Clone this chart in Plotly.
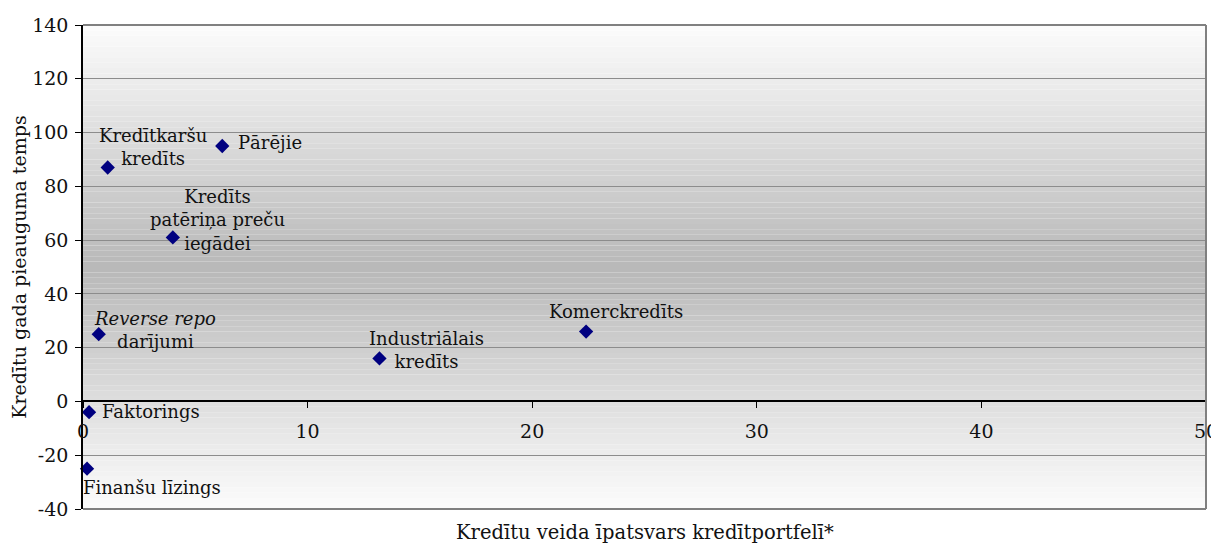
import plotly.graph_objects as go

labels = ["Kredītkaršu<br>kredīts", "Pārējie", "Kredīts<br>patēriņa preču<br>iegādei",
          "<i>Reverse repo</i><br>darījumi", "Industriālais<br>kredīts", "Komerckredīts",
          "Faktorings", "Finanšu līzings"]
share = [1.1, 6.2, 4.0, 0.7, 13.2, 22.4, 0.27, 0.18]
growth = [87, 95, 61, 25, 16, 26, -4, -25]
label_dx = [45, 48, 45, 56, 47, 30, 62, 65]
label_dy = [-21, -4, -17, -4, -8, -20, -1, 19]

x_ticks = [0, 10, 20, 30, 40, 50]
y_ticks = [-40, -20, 0, 20, 40, 60, 80, 100, 120, 140]
y_tick_text = ["-40", "-20", "0", "20", "40", "60", "80", "100", "120", "140"]
x_title = "Kredītu veida īpatsvars kredītportfelī*"
y_title = "Kredītu gada pieauguma temps"

FONT = "DejaVu Serif"
TXT = "#111111"
fig = go.Figure()
fig.add_trace(go.Scatter(
    x=share, y=growth, mode="markers",
    marker=dict(symbol="diamond", size=11, color="#000080"),
    hoverinfo="x+y", showlegend=False, cliponaxis=False))

# gradient background bands
shapes = []
N = 90
ymin, ymax = y_ticks[0], y_ticks[-1]
mid = (ymin + ymax) / 2
half = (ymax - ymin) / 2
for i in range(N):
    y0 = ymin + i * (ymax - ymin) / N
    y1 = ymin + (i + 1) * (ymax - ymin) / N
    yc = (y0 + y1) / 2
    t = 1 - abs(yc - mid) / half
    c = int(round(252 - (252 - 184) * t))
    shapes.append(dict(type="rect", xref="paper", yref="y", x0=0, x1=1, y0=y0, y1=y1,
                       fillcolor=f"rgb({c},{c},{c})", line=dict(width=0), layer="below"))
# frame (top, right, bottom)
for x0, y0, x1, y1 in [(0, 1, 1, 1), (1, 0, 1, 1), (0, 0, 1, 0)]:
    shapes.append(dict(type="line", xref="paper", yref="paper", x0=x0, y0=y0, x1=x1, y1=y1,
                       line=dict(color="#808080", width=2), layer="above"))

annotations = []
for lab, x, y, dx, dy in zip(labels, share, growth, label_dx, label_dy):
    annotations.append(dict(x=x, y=y, xref="x", yref="y", text=lab, showarrow=True,
                            arrowcolor="rgba(0,0,0,0)", ax=dx, ay=dy, align="center",
                            font=dict(family=FONT, size=18, color=TXT)))
annotations.append(dict(x=0.5, y=-0.048, xref="paper", yref="paper", text=x_title,
                        showarrow=False, yanchor="middle",
                        font=dict(family=FONT, size=19.5, color=TXT)))

fig.update_layout(
    width=1211, height=538,
    margin=dict(l=75, r=13, t=17, b=37, autoexpand=False),
    paper_bgcolor="white", plot_bgcolor="rgba(0,0,0,0)",
    font=dict(family=FONT, size=19, color=TXT),
    shapes=shapes, annotations=annotations,
    xaxis=dict(range=[0, 50], tickvals=x_ticks, ticks="outside", ticklen=6, tickcolor="black",
               showline=True, linecolor="black", linewidth=1.5, showgrid=False, zeroline=False,
               anchor="free", position=(0 - ymin) / (ymax - ymin), automargin=False,
               ticklabelstandoff=7,
               tickfont=dict(family=FONT, size=19, color=TXT)),
    yaxis=dict(range=[ymin, ymax], tickvals=y_ticks, ticktext=y_tick_text,
               ticks="outside", ticklen=6, tickcolor="black",
               showline=True, linecolor="black", linewidth=1.5, showgrid=True, automargin=False,
               gridcolor="#8c8c8c", gridwidth=1, zeroline=False, ticklabelstandoff=3,
               title=dict(text=y_title, font=dict(family=FONT, size=19, color=TXT), standoff=8),
               tickfont=dict(family=FONT, size=19, color=TXT)),
)

fig.write_html("out.html")
